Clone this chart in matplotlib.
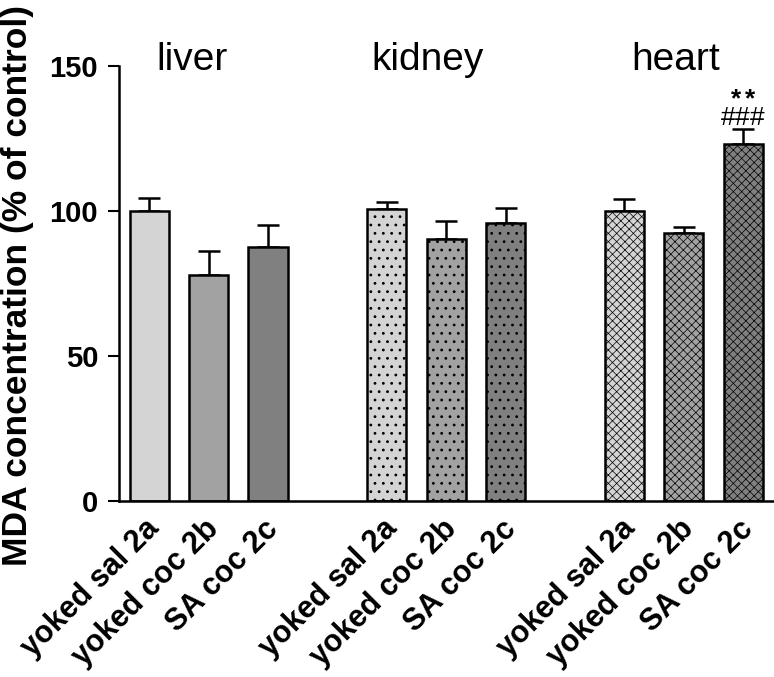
import numpy as np
import matplotlib
matplotlib.use('Agg')
from matplotlib import pyplot as plt
from matplotlib.transforms import ScaledTranslation

organs = ['liver', 'kidney', 'heart']
groups = ['yoked sal 2a', 'yoked coc 2b', 'SA coc 2c']

liver_mean = [100.0, 77.8, 87.6]
liver_sem = [4.5, 8.4, 7.4]
kidney_mean = [100.6, 90.4, 95.8]
kidney_sem = [2.5, 6.2, 5.2]
heart_mean = [100.1, 92.4, 123.2]
heart_sem = [4.2, 2.1, 5.1]

colors = ['#d4d4d4', '#a2a2a2', '#808080']
hatches = ['', '..', 'xxxx']
hatch_lw = [0.8, 0.8, 0.5]
title_off = [-0.28, -0.31, -0.14]

plt.rcParams['font.family'] = 'Liberation Sans'
plt.rcParams['mathtext.fontset'] = 'custom'
plt.rcParams['mathtext.rm'] = 'Liberation Sans'
plt.rcParams['mathtext.bf'] = 'Liberation Sans:bold'
plt.rcParams['hatch.color'] = '#222222'

fig = plt.figure(figsize=(7.74, 6.77), dpi=100)
ax = fig.add_axes([0.1537, 0.26, 0.8463, 0.6425])

means = [liver_mean, kidney_mean, heart_mean]
sems = [liver_sem, kidney_sem, heart_sem]
ticks = []
for g in range(3):
    x = np.arange(3) + 4 * g
    ticks.extend(x)
    plt.rcParams['hatch.linewidth'] = hatch_lw[g]
    for i in range(3):
        ax.bar(x[i], means[g][i], width=0.66, color=colors[i], edgecolor='black',
               linewidth=1.8, hatch=hatches[g], zorder=2)
        ax.errorbar(x[i], means[g][i], yerr=[[0], [sems[g][i]]], fmt='none',
                    ecolor='black', elinewidth=1.8, capsize=8, capthick=1.8, zorder=1)
    ax.text(x[1] + title_off[g], 148.6, organs[g], fontsize=28, ha='center',
            va='baseline', clip_on=False)

# significance marks on heart SA coc (one text, two lines)
ax.text(10, 128.1, r'$\mathbf{*}\,\mathbf{*}$' + '\n' + r'$\mathrm{\#\#\#}$',
        fontsize=19, ha='center', va='bottom', multialignment='center',
        linespacing=0.75)

ax.set_xlim(-0.51, 10.52)
ax.set_ylim(0, 150)
ax.set_yticks([0, 50, 100, 150])
ax.set_xticks(ticks)
ax.set_xticklabels(groups * 3, rotation=45, ha='right', va='center',
                   rotation_mode='anchor', fontsize=22, fontweight='bold')
ax.tick_params(axis='x', length=0, pad=14)
ax.tick_params(axis='y', length=8, width=1.5, labelsize=21, direction='out', pad=7)
for lab in ax.get_yticklabels():
    lab.set_fontweight('bold')
shift = ScaledTranslation(6 / 100, -4 / 100, fig.dpi_scale_trans)
for lab in ax.get_xticklabels():
    lab.set_transform(lab.get_transform() + shift)

fig.text(0.022, 1 - 285 / 677, 'MDA concentration (% of control)', rotation=90,
         fontsize=25.5, fontweight='bold', ha='center', va='center')

ax.spines['top'].set_visible(False)
ax.spines['right'].set_visible(False)
ax.spines['left'].set_linewidth(1.8)
ax.spines['bottom'].set_linewidth(1.8)

fig.savefig('out.png', dpi=100)
